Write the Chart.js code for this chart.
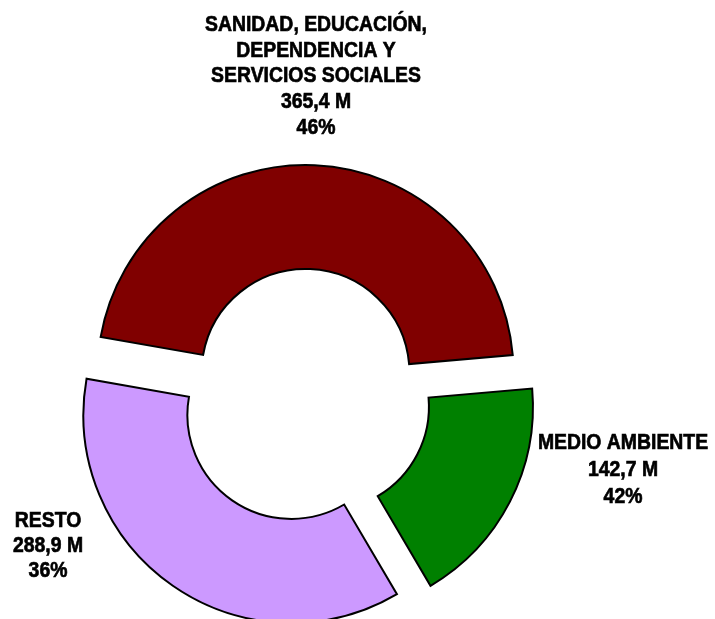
<!DOCTYPE html>
<html>
<head>
<meta charset="utf-8">
<script src="https://cdn.jsdelivr.net/npm/chart.js@4/dist/chart.umd.min.js"></script>
<style>
    html, body { margin: 0; padding: 0; background: #fff; }
    #wrap { width: 715px; height: 619px; }
</style>
</head>
<body>
<div id="wrap"><canvas id="chart" width="715" height="619"></canvas></div>
<script>
const categories = [
    ['SANIDAD, EDUCACIÓN,', 'DEPENDENCIA Y', 'SERVICIOS SOCIALES'],
    ['MEDIO AMBIENTE'],
    ['RESTO']
]
const amounts = [365.4, 142.7, 288.9]
const share_labels = ['46%', '42%', '36%']
const colors = ['#800000', '#008000', '#cc99ff']

// centre x of each text block, middle of its first line, and line pitch
const label_spots = [
    {x: 316, y: 25, gap: 25.7},
    {x: 623, y: 443, gap: 27},
    {x: 48, y: 521, gap: 25}
]

const money = v => v.toFixed(1).replace('.', ',') + ' M'

// pull every slice out from the centre along its own mid angle
const explode = {
    id: 'explode',
    beforeDatasetDraw(chart, args, opts){
        const ctx = chart.ctx
        args.meta.data.forEach(arc => {
            const mid = (arc.startAngle + arc.endAngle) / 2
            ctx.save()
            ctx.translate(Math.cos(mid) * opts.distance, Math.sin(mid) * opts.distance)
            arc.draw(ctx)
            ctx.restore()
        })
        return false
    }
}

// bold labels, a touch taller than the plain font and with a thin outline for weight
const slice_labels = {
    id: 'slice_labels',
    afterDraw(chart){
        const ctx = chart.ctx
        ctx.save()
        ctx.fillStyle = '#000'
        ctx.strokeStyle = '#000'
        ctx.lineWidth = 0.6
        ctx.font = 'bold 19.4px "Liberation Sans", Arial, sans-serif'
        ctx.textAlign = 'center'
        ctx.textBaseline = 'middle'
        chart.data.labels.forEach((name, i) => {
            const lines = [...name, money(amounts[i]), share_labels[i]]
            const spot = label_spots[i]
            lines.forEach((txt, k) => {
                ctx.save()
                ctx.translate(spot.x, spot.y + k * spot.gap)
                ctx.scale(1, 1.1)
                ctx.fillText(txt, 0, 0)
                ctx.strokeText(txt, 0, 0)
                ctx.restore()
            })
        })
        ctx.restore()
    }
}

new Chart(document.getElementById('chart'), {
    type: 'doughnut',
    data: {
        labels: categories,
        datasets: [{
            data: amounts,
            backgroundColor: colors,
            borderColor: '#000',
            borderWidth: 2,
            borderJoinStyle: 'miter'
        }]
    },
    options: {
        responsive: false,
        animation: false,
        rotation: -80,
        cutout: '50%',
        layout: {padding: {left: 95, top: 187, right: 201, bottom: 14}},
        plugins: {
            legend: {display: false},
            tooltip: {enabled: false},
            explode: {distance: 23}
        }
    },
    plugins: [explode, slice_labels]
})
</script>
</body>
</html>
